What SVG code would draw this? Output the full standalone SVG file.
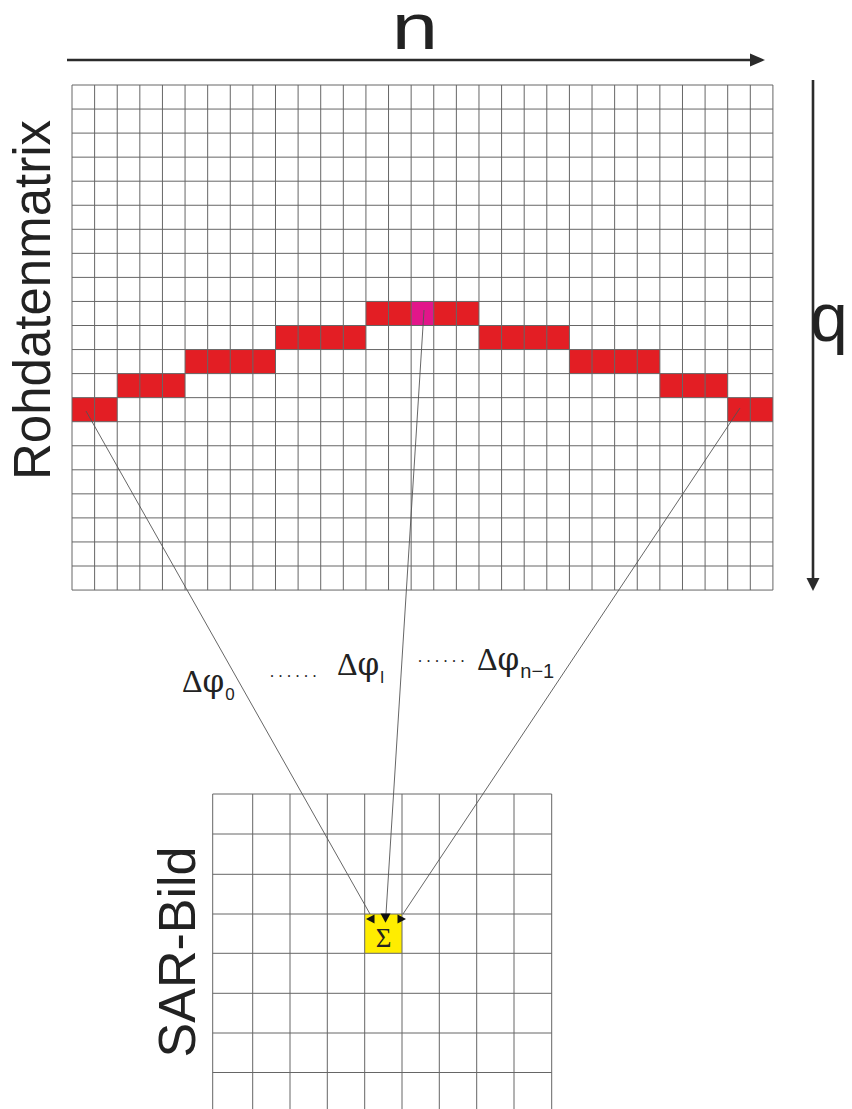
<svg xmlns="http://www.w3.org/2000/svg" width="852" height="1109" viewBox="0 0 852 1109">
<style>
.grid{fill:none;stroke:#666;stroke-width:1}
.red{fill:#e31e24}
.axis{stroke:#2b2b2b;stroke-width:2.6;fill:none}
.head{fill:#2b2b2b}
.ray{stroke:#555;stroke-width:0.9;fill:none}
.sans{font-family:"Liberation Sans",Arial,sans-serif;fill:#222}
.serif{font-family:"Liberation Serif","Times New Roman",serif;fill:#222}
.phi{font-family:"DejaVu Serif","Liberation Serif",serif}
.sub{font-family:"Liberation Sans",Arial,sans-serif}
</style>
<rect width="852" height="1109" fill="#ffffff"/>
<g id="axis-n">
<line class="axis" x1="67" y1="60" x2="752" y2="60"/>
<polygon class="head" points="750,53.5 765,60 750,66.5"/>
<text class="sans" transform="translate(415,49) scale(1.3,1)" font-size="64" text-anchor="middle">n</text>
</g>
<g id="axis-q">
<line class="axis" x1="813" y1="80" x2="813" y2="580"/>
<polygon class="head" points="806.5,578 813,591 819.5,578"/>
<text class="sans" x="829" y="341" font-size="68" text-anchor="middle">q</text>
</g>
<g id="rohdatenmatrix">
<g id="curve-cells">
<rect class="red" x="72" y="397.65" width="45.22" height="24.05"/>
<rect class="red" x="117.22" y="373.6" width="67.83" height="24.05"/>
<rect class="red" x="185.05" y="349.55" width="90.44" height="24.05"/>
<rect class="red" x="275.49" y="325.5" width="90.44" height="24.05"/>
<rect class="red" x="365.93" y="301.45" width="113.05" height="24.05"/>
<rect fill="#e2168a" x="411.15" y="301.45" width="22.61" height="24.05"/>
<rect class="red" x="478.98" y="325.5" width="90.44" height="24.05"/>
<rect class="red" x="569.42" y="349.55" width="90.44" height="24.05"/>
<rect class="red" x="659.86" y="373.6" width="67.83" height="24.05"/>
<rect class="red" x="727.69" y="397.65" width="45.22" height="24.05"/>
</g>
<path class="grid" d="M72 85V590.05M94.61 85V590.05M117.22 85V590.05M139.83 85V590.05M162.44 85V590.05M185.05 85V590.05M207.66 85V590.05M230.27 85V590.05M252.88 85V590.05M275.49 85V590.05M298.1 85V590.05M320.71 85V590.05M343.32 85V590.05M365.93 85V590.05M388.54 85V590.05M411.15 85V590.05M433.76 85V590.05M456.37 85V590.05M478.98 85V590.05M501.59 85V590.05M524.2 85V590.05M546.81 85V590.05M569.42 85V590.05M592.03 85V590.05M614.64 85V590.05M637.25 85V590.05M659.86 85V590.05M682.47 85V590.05M705.08 85V590.05M727.69 85V590.05M750.3 85V590.05M772.91 85V590.05"/>
<path class="grid" d="M72 85H772.91M72 109.05H772.91M72 133.1H772.91M72 157.15H772.91M72 181.2H772.91M72 205.25H772.91M72 229.3H772.91M72 253.35H772.91M72 277.4H772.91M72 301.45H772.91M72 325.5H772.91M72 349.55H772.91M72 373.6H772.91M72 397.65H772.91M72 421.7H772.91M72 445.75H772.91M72 469.8H772.91M72 493.85H772.91M72 517.9H772.91M72 541.95H772.91M72 566H772.91M72 590.05H772.91"/>
<text class="sans" transform="translate(50,300) rotate(-90)" font-size="51" text-anchor="middle">Rohdatenmatrix</text>
</g>
<g id="sar-bild">
<rect fill="#ffed00" x="364.7" y="914" width="37.3" height="39.3"/>
<path class="grid" d="M212.7 794V1109M252.7 794V1109M290 794V1109M327.3 794V1109M364.7 794V1109M402 794V1109M439.3 794V1109M476.7 794V1109M514 794V1109M551.7 794V1109"/>
<path class="grid" d="M212.7 794H551.7M212.7 834H551.7M212.7 874.3H551.7M212.7 914H551.7M212.7 953.3H551.7M212.7 993.3H551.7M212.7 1033H551.7M212.7 1072.5H551.7"/>
<text class="sans" transform="translate(195,952) rotate(-90)" font-size="52" text-anchor="middle">SAR-Bild</text>
</g>
<g id="connectors">
<line class="ray" x1="86" y1="411" x2="370" y2="914"/>
<line class="ray" x1="424" y1="310" x2="386" y2="914"/>
<line class="ray" x1="740" y1="408" x2="403" y2="914"/>
<polygon fill="#111" points="366,919 374.5,914.5 374.5,923.5"/>
<polygon fill="#111" points="380.5,913.5 390.5,913.5 385.5,922.7"/>
<polygon fill="#111" points="406,919 397.5,914.5 397.5,923.5"/>
</g>
<g id="sum">
<text class="serif" x="383.5" y="946.5" font-size="27" text-anchor="middle">Σ</text>
</g>
<g id="labels">
<text class="serif" x="182" y="692" font-size="32">Δ<tspan class="phi" font-size="31">φ</tspan><tspan class="sub" dx="1" dy="8" font-size="17">0</tspan></text>
<text class="serif" x="270" y="677" font-size="16" letter-spacing="4.5">......</text>
<text class="serif" x="337" y="675" font-size="32">Δ<tspan class="phi" font-size="31">φ</tspan><tspan class="sub" dx="1" dy="8" font-size="17">l</tspan></text>
<text class="serif" x="418" y="662" font-size="16" letter-spacing="4.5">......</text>
<text class="serif" x="477" y="670" font-size="32">Δ<tspan class="phi" font-size="31">φ</tspan><tspan class="sub" dx="1" dy="8" font-size="20">n−1</tspan></text>
</g>
</svg>
